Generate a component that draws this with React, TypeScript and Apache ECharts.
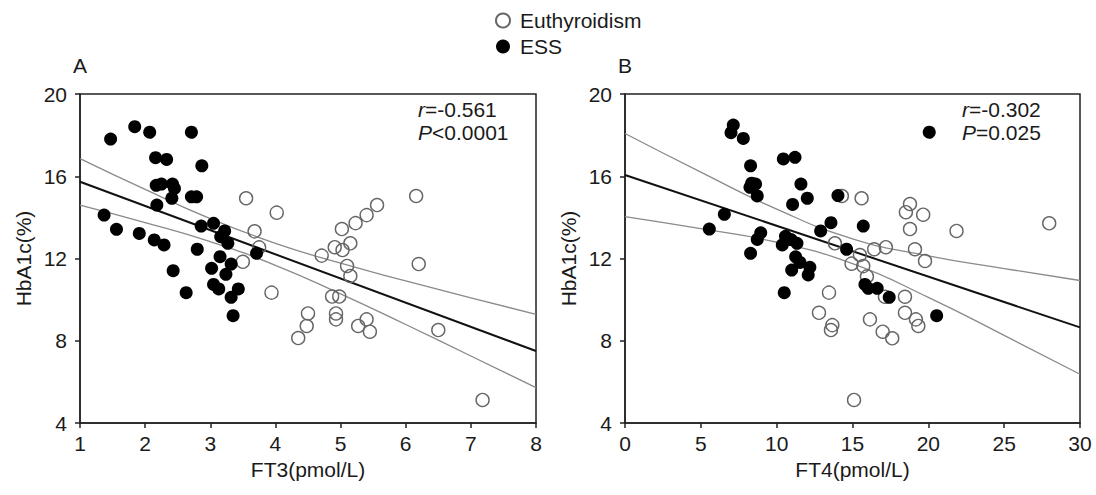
import React, { useEffect, useRef } from "react";
import * as echarts from "echarts";

// Panel A: FT3 vs HbA1c
const ft3Ess: [number, number][] = [
  [1.47, 17.81], [1.84, 18.41], [2.07, 18.14], [2.71, 18.14], [2.16, 16.9], [2.33, 16.82],
  [2.87, 16.51], [2.17, 15.56], [2.25, 15.62], [2.42, 15.62], [2.45, 15.41], [2.41, 14.93],
  [2.71, 15.0], [2.79, 15.0], [2.18, 14.6], [1.37, 14.11], [1.56, 13.42], [1.91, 13.22],
  [2.14, 12.9], [2.29, 12.66], [2.8, 12.45], [3.05, 13.71], [3.22, 13.34], [3.16, 13.06],
  [3.27, 12.74], [3.71, 12.25], [3.15, 12.09], [2.86, 13.58], [3.32, 11.73], [2.43, 11.41],
  [3.02, 11.52], [3.24, 11.23], [3.05, 10.74], [3.13, 10.52], [2.63, 10.34], [3.43, 10.52],
  [3.32, 10.11], [3.35, 9.22],
];
const ft3Eu: [number, number][] = [
  [3.55, 14.93], [4.02, 14.23], [3.68, 13.32], [3.75, 12.54], [3.5, 11.84], [3.94, 10.34],
  [4.35, 8.13], [6.16, 15.04], [5.56, 14.6], [5.4, 14.11], [5.23, 13.72], [5.02, 13.43],
  [5.15, 12.74], [4.91, 12.55], [5.03, 12.41], [4.71, 12.14], [5.1, 11.64], [5.15, 11.15],
  [6.2, 11.73], [4.87, 10.15], [4.98, 10.15], [4.5, 9.33], [4.93, 9.33], [4.93, 9.04],
  [4.48, 8.72], [5.27, 8.72], [5.4, 9.04], [5.45, 8.44], [6.5, 8.52], [7.18, 5.12],
];
const ft3Fit: [number, number][] = [[1, 15.73], [8, 7.5]];
const ft3CiX = [1, 2, 3, 4, 5, 6, 7, 8];
const ft3CiUpper = [16.86, 15.36, 13.94, 12.74, 11.77, 10.91, 10.09, 9.28];
const ft3CiLower = [14.6, 13.75, 12.82, 11.67, 10.28, 8.79, 7.26, 5.72];

// Panel B: FT4 vs HbA1c
const ft4Ess: [number, number][] = [
  [7.14, 18.49], [6.99, 18.12], [7.8, 17.84], [8.28, 16.51], [10.44, 16.84], [11.21, 16.92],
  [8.35, 15.66], [8.61, 15.62], [8.24, 15.46], [8.72, 15.04], [11.6, 15.62], [12.02, 14.93],
  [11.05, 14.63], [14.04, 15.06], [6.55, 14.15], [5.56, 13.43], [8.95, 13.25], [8.72, 12.93],
  [13.58, 13.74], [12.9, 13.34], [10.58, 13.08], [10.95, 12.92], [11.34, 12.74], [10.37, 12.66],
  [8.28, 12.25], [11.25, 12.08], [11.54, 11.81], [12.19, 11.57], [10.99, 11.44], [12.08, 11.2],
  [10.5, 10.34], [20.06, 18.14], [15.71, 13.58], [14.61, 12.45], [15.82, 10.74], [16.04, 10.55],
  [16.63, 10.55], [17.42, 10.11], [20.55, 9.22],
];
const ft4Eu: [number, number][] = [
  [13.84, 12.74], [13.45, 10.34], [12.79, 9.36], [13.67, 8.76], [13.58, 8.52], [14.3, 15.04],
  [15.6, 14.93], [18.79, 14.65], [18.52, 14.25], [19.66, 14.13], [18.79, 13.43], [21.86, 13.34],
  [27.97, 13.71], [15.49, 12.17], [16.43, 12.45], [17.2, 12.55], [19.12, 12.45], [19.78, 11.88],
  [14.94, 11.75], [15.71, 11.63], [15.95, 11.13], [17.14, 10.14], [18.46, 10.14], [18.46, 9.36],
  [16.15, 9.04], [19.18, 9.04], [19.34, 8.72], [16.99, 8.44], [17.62, 8.12], [15.1, 5.12],
];
const ft4Fit: [number, number][] = [[0, 16.06], [30, 8.65]];
const ft4CiX = [0, 5, 10, 15, 20, 25, 30];
const ft4CiUpper = [18.08, 16.2, 14.4, 12.96, 12.13, 11.51, 10.93];
const ft4CiLower = [14.04, 13.45, 12.79, 11.75, 10.11, 8.26, 6.37];

const yTicks = { min: 4, max: 20, interval: 4 };
const statsA = ["-0.561", "<0.0001"];
const statsB = ["-0.302", "=0.025"];

const FONT = "Liberation Sans, Arial, sans-serif";
const TXT = "#1a1a1a";

const zip = (xs: number[], ys: number[]) => xs.map((x, i) => [x, ys[i]]);

export default function App() {
  const ref = useRef<HTMLDivElement>(null);
  useEffect(() => {
    if (!ref.current) return;
    const chart = echarts.init(ref.current, null, { renderer: "svg" });

    const axisCommon = {
      axisLine: { show: true, onZero: false, lineStyle: { color: "#222", width: 1.5 } },
      axisTick: { show: true, inside: false, length: 5, lineStyle: { color: "#222", width: 1.5 } },
      splitLine: { show: false },
      nameTextStyle: { fontSize: 21, color: TXT, fontFamily: FONT },
    };
    const xAx = (gi: number, min: number, max: number, interval: number, name: string) => ({
      ...axisCommon,
      type: "value",
      gridIndex: gi,
      min,
      max,
      interval,
      name,
      nameLocation: "middle",
      nameGap: 36,
      axisLabel: { fontSize: 21, color: TXT, fontFamily: FONT, margin: 10 },
    });
    const yAx = (gi: number) => ({
      ...axisCommon,
      type: "value",
      gridIndex: gi,
      ...yTicks,
      name: "HbA1c(%)",
      nameLocation: "middle",
      nameGap: 46,
      axisLabel: { fontSize: 21, color: TXT, fontFamily: FONT, margin: 13 },
    });

    const openStyle = { color: "rgba(255,255,255,0)", borderColor: "#666", borderWidth: 1.4, opacity: 1 };
    const fillStyle = { color: "#000", borderColor: "#000", borderWidth: 0, opacity: 1 };
    const line = (gi: number, data: number[][], color: string, width: number) => ({
      type: "line",
      xAxisIndex: gi,
      yAxisIndex: gi,
      data,
      smooth: true,
      showSymbol: false,
      symbol: "none",
      lineStyle: { color, width },
      silent: true,
      z: 1,
    });
    const stat = (x: number, y: number, sym: string, rest: string) => ({
      type: "text",
      x,
      y,
      style: {
        text: `{i|${sym}}${rest}`,
        fill: TXT,
        font: `21px ${FONT}`,
        verticalAlign: "middle",
        rich: { i: { fontStyle: "italic", fontSize: 21, fontFamily: FONT, fill: TXT } },
      },
    });

    chart.setOption({
      animation: false,
      textStyle: { fontFamily: FONT },
      legend: {
        orient: "vertical",
        left: 490,
        top: 5,
        itemWidth: 14,
        itemHeight: 14,
        itemGap: 5,
        selectedMode: false,
        textStyle: { fontSize: 21, color: TXT, fontFamily: FONT, padding: [0, 0, 0, 5] },
        data: [
          { name: "Euthyroidism", icon: "circle" },
          { name: "ESS", icon: "circle" },
        ],
      },
      grid: [
        { left: 80, top: 94, width: 456, height: 329, show: true, borderColor: "#222", borderWidth: 1.5, backgroundColor: "transparent" },
        { left: 625, top: 94, width: 455, height: 329, show: true, borderColor: "#222", borderWidth: 1.5, backgroundColor: "transparent" },
      ],
      xAxis: [xAx(0, 1, 8, 1, "FT3(pmol/L)"), xAx(1, 0, 30, 5, "FT4(pmol/L)")],
      yAxis: [yAx(0), yAx(1)],
      graphic: [
        { type: "text", x: 73, y: 65, style: { text: "A", fill: TXT, font: `21px ${FONT}`, verticalAlign: "middle" } },
        { type: "text", x: 618, y: 65, style: { text: "B", fill: TXT, font: `21px ${FONT}`, verticalAlign: "middle" } },
        stat(418, 109, "r", `=${statsA[0]}`),
        stat(418, 132, "P", statsA[1]),
        stat(962, 109, "r", `=${statsB[0]}`),
        stat(962, 132, "P", statsB[1]),
      ],
      series: [
        line(0, zip(ft3CiX, ft3CiUpper), "#8a8a8a", 1.3),
        line(0, zip(ft3CiX, ft3CiLower), "#8a8a8a", 1.3),
        line(0, ft3Fit, "#111", 2),
        { type: "scatter", name: "Euthyroidism", xAxisIndex: 0, yAxisIndex: 0, data: ft3Eu, symbolSize: 13, itemStyle: openStyle, z: 2 },
        { type: "scatter", name: "ESS", xAxisIndex: 0, yAxisIndex: 0, data: ft3Ess, symbolSize: 13, itemStyle: fillStyle, z: 3 },
        line(1, zip(ft4CiX, ft4CiUpper), "#8a8a8a", 1.3),
        line(1, zip(ft4CiX, ft4CiLower), "#8a8a8a", 1.3),
        line(1, ft4Fit, "#111", 2),
        { type: "scatter", name: "Euthyroidism", xAxisIndex: 1, yAxisIndex: 1, data: ft4Eu, symbolSize: 13, itemStyle: openStyle, z: 2 },
        { type: "scatter", name: "ESS", xAxisIndex: 1, yAxisIndex: 1, data: ft4Ess, symbolSize: 13, itemStyle: fillStyle, z: 3 },
      ],
    });
    return () => chart.dispose();
  }, []);
  return <div ref={ref} style={{ position: "fixed", left: 0, top: 0, width: 1096, height: 495, background: "#fff" }} />;
}
